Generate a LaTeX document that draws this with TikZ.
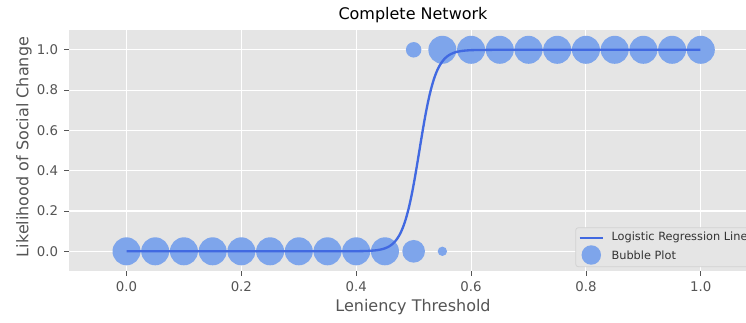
\documentclass[tikz,border=0pt]{standalone}
\usepackage{fontspec}
\setmainfont{DejaVu Sans}
\definecolor{axbg}{HTML}{E5E5E5}
\definecolor{tickgray}{HTML}{555555}
\definecolor{bubble}{HTML}{7EA5EB}
\definecolor{lineblue}{HTML}{4169E1}
\definecolor{legedge}{HTML}{D2D2D2}
\tikzset{
  ticklab/.style={text=tickgray, font=\fontsize{10bp}{12bp}\selectfont, inner sep=0pt},
  axlab/.style={text=tickgray, font=\fontsize{12bp}{14bp}\selectfont, inner sep=0pt},
  leglab/.style={text=black!80, font=\fontsize{8.5bp}{10bp}\selectfont, inner sep=0pt, anchor=west},
  gridline/.style={white, line width=0.8bp},
  tickmark/.style={tickgray, line width=0.6bp},
  bub/.style={fill=bubble}
}
\begin{document}
\begin{tikzpicture}[x=0.75bp,y=-0.75bp]
\useasboundingbox (0,0) rectangle (746,323);
\clip (0,0) rectangle (746,323);
\fill[white] (0,0) rectangle (746,323);
\fill[axbg] (69.1,29.65) rectangle (760,271.45);
\begin{scope}[shift={(126.5,251.3)}, x=430.725bp, y=151.125bp]
  \foreach \v in {0,0.2,0.4,0.6,0.8,1.0} {
    \draw[gridline] (\v,-0.1) -- (\v,1.1);
    \draw[gridline] (-0.1,\v) -- (1.2,\v);
  }
  \foreach \v/\t in {0/0.0,0.2/0.2,0.4/0.4,0.6/0.6,0.8/0.8,1.0/1.0} {
    \draw[tickmark] (\v,-0.1) -- ++(0bp,-3.5bp);
    \node[ticklab, yshift=-11.6bp] (xt\t) at (\v,-0.1) {\t};
    \draw[tickmark] (-0.1,\v) -- ++(-3.5bp,0bp);
    \node[ticklab, anchor=east, xshift=-8.1bp] (yt\t) at (-0.1,\v) {\t};
  }
  % bubbles
  \foreach \i in {0,...,9} {
    \fill[bub] (0.05*\i,0) circle[radius=10.5bp];
    \fill[bub] (0.55+0.05*\i,1) circle[radius=10.5bp];
  }
  \fill[bub] (0.5,0) circle[radius=8.5bp];
  \fill[bub] (0.55,0) circle[radius=3.5bp];
  \fill[bub] (0.5,1) circle[radius=5.8bp];
  % logistic line
  \draw[lineblue, line width=1.75bp, line join=round] plot[domain=0:1, samples=300, smooth]
    (\x, {1/(1+exp(max(-9,min(9,-70*(\x-0.51)))))});
\end{scope}
\node[font=\fontsize{12bp}{14bp}\selectfont, inner sep=0pt] (title) at (413,15) {Complete Network};
\node[axlab] (xlabel) at (413,306.7) {Leniency Threshold};
\node[axlab, rotate=90] (ylabel) at (24,147) {Likelihood of Social Change};
% legend
\draw[legedge, fill=axbg, line width=0.6bp, rounded corners=2bp] (575.7,227.7) rectangle (780,266.7);
\draw[lineblue, line width=1.75bp] (579.7,237.7) -- (603,237.7);
\fill[bub] (591.3,255) circle[radius=7.3bp];
\node[leglab] (leg1) at (611.3,237.7) {Logistic Regression Line};
\node[leglab] (leg2) at (611.3,255) {Bubble Plot};
\end{tikzpicture}
\end{document}
